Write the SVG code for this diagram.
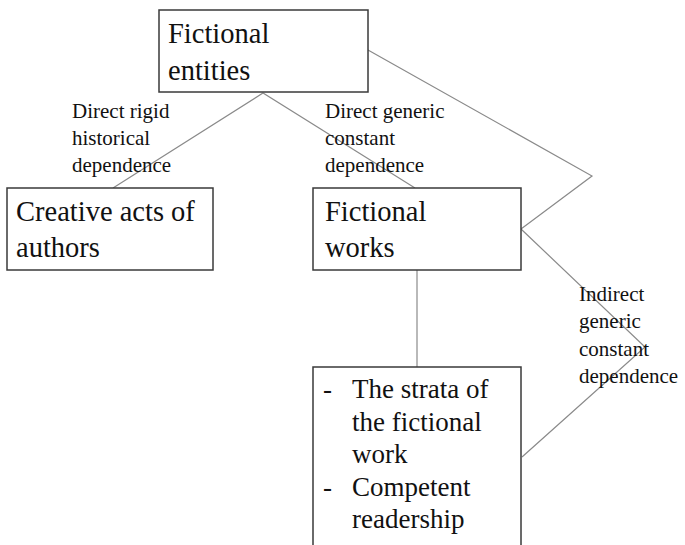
<svg xmlns="http://www.w3.org/2000/svg" width="685" height="545" viewBox="0 0 685 545">
<style>
.box{fill:#fff;stroke:#3a3a3a;stroke-width:1.5}
text{font-family:'Liberation Serif','DejaVu Serif',serif;fill:#111}
.big{font-size:28.5px}
.lst{font-size:27px}
.lbl{font-size:21px}
.con{fill:none;stroke:#8a8a8a;stroke-width:1.2}
</style>
<rect width="685" height="545" fill="#fff"/>
<g id="connectors">
<polyline class="con" points="113,188 263,93 415,188"/>
<polyline class="con" points="368,50 592,176 521,229"/>
<polyline class="con" points="521,229 645,347 522,457"/>
<line class="con" x1="417" y1="270" x2="417" y2="367"/>
</g>
<g id="fictional-entities">
<rect class="box" x="159" y="10" width="209" height="82"/>
<text class="big" x="168" y="43">Fictional</text>
<text class="big" x="168" y="80">entities</text>
</g>
<g id="creative-acts">
<rect class="box" x="7" y="188" width="206" height="82"/>
<text class="big" x="16" y="221">Creative acts of</text>
<text class="big" x="16" y="257">authors</text>
</g>
<g id="fictional-works">
<rect class="box" x="313" y="188" width="208" height="82"/>
<text class="big" x="325" y="221">Fictional</text>
<text class="big" x="325" y="257">works</text>
</g>
<g id="strata">
<rect class="box" x="313" y="367" width="208" height="190"/>
<text class="lst" x="323" y="398">-</text>
<text class="lst" x="352" y="398">The strata of</text>
<text class="lst" x="352" y="431">the fictional</text>
<text class="lst" x="352" y="463">work</text>
<text class="lst" x="323" y="496">-</text>
<text class="lst" x="352" y="496">Competent</text>
<text class="lst" x="352" y="528">readership</text>
</g>
<g id="labels">
<text class="lbl" x="72" y="118">Direct rigid</text>
<text class="lbl" x="72" y="145">historical</text>
<text class="lbl" x="72" y="172">dependence</text>
<text class="lbl" x="325" y="118">Direct generic</text>
<text class="lbl" x="325" y="145">constant</text>
<text class="lbl" x="325" y="172">dependence</text>
<text class="lbl" x="579" y="301">Indirect</text>
<text class="lbl" x="579" y="328">generic</text>
<text class="lbl" x="579" y="356">constant</text>
<text class="lbl" x="579" y="383">dependence</text>
</g>
</svg>
